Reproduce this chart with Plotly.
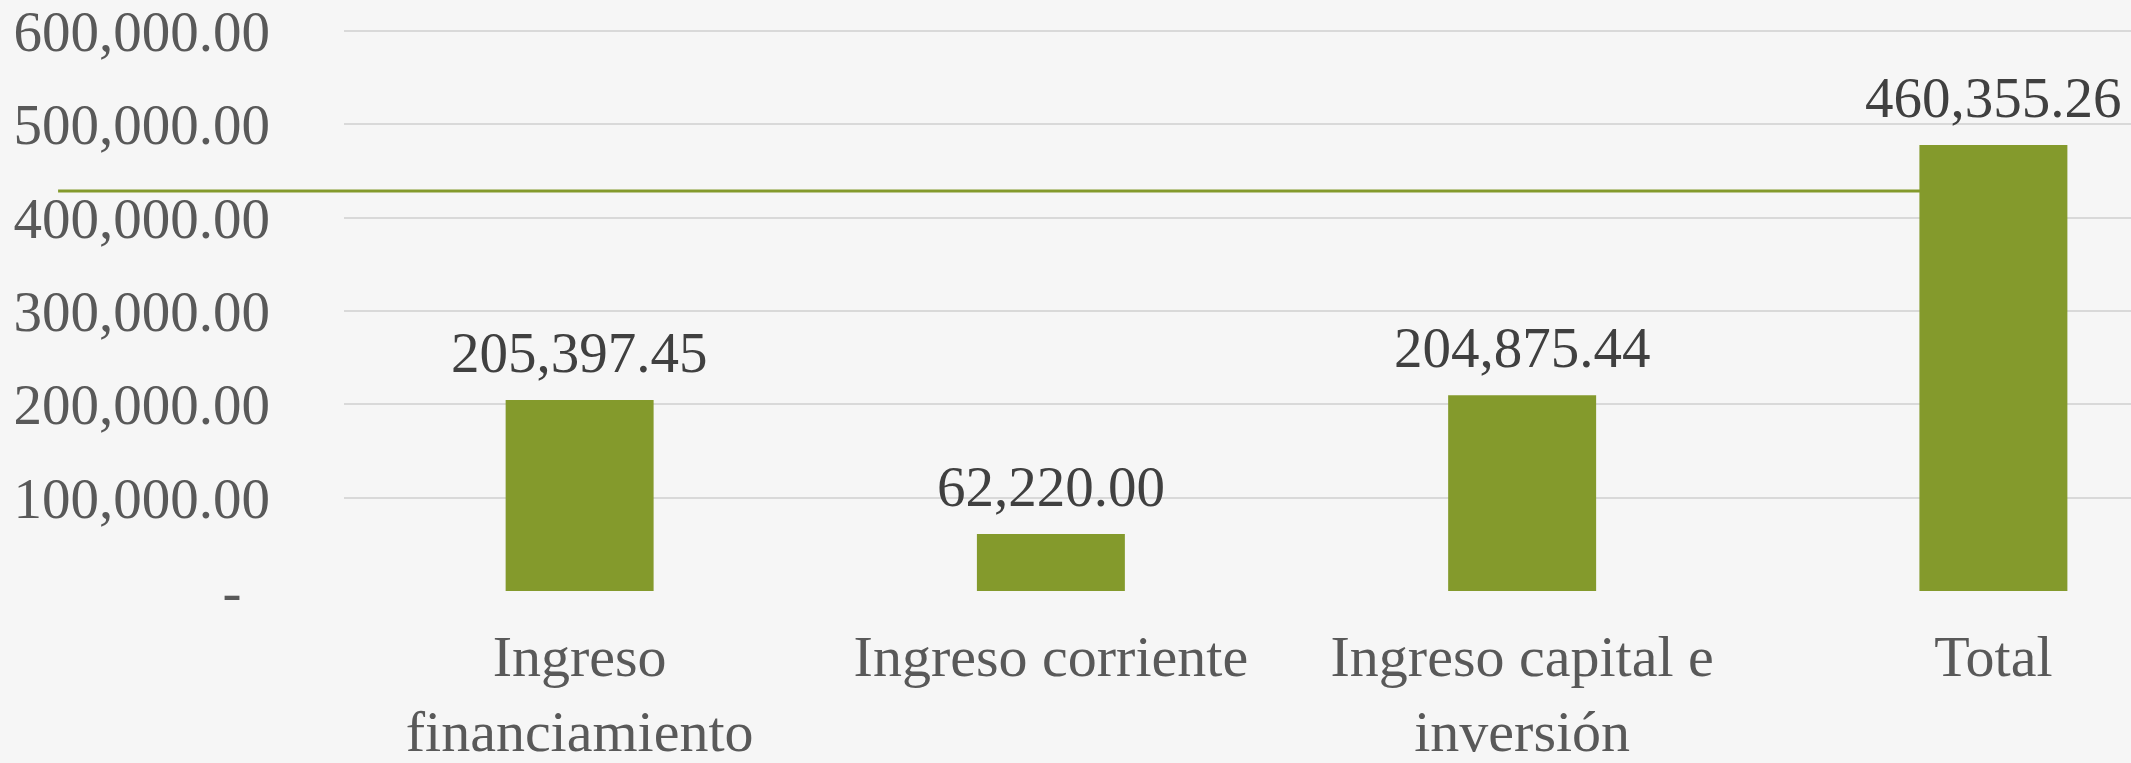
import plotly.graph_objects as go

categories = ["Ingreso financiamiento", "Ingreso corriente", "Ingreso capital e inversión", "Total"]
category_labels = ["Ingreso<br>financiamiento", "Ingreso corriente", "Ingreso capital e<br>inversión", "Total"]
bar_values = [204600, 61100, 209700, 477900]
value_labels = ["205,397.45", "62,220.00", "204,875.44", "460,355.26"]
y_tickvals = [0, 100000, 200000, 300000, 400000, 500000, 600000]
y_ticktext = ["-\u00a0\u00a0", "100,000.00", "200,000.00", "300,000.00", "400,000.00", "500,000.00", "600,000.00"]

GREEN = "#849A2C"
FONT = "Liberation Serif"

fig = go.Figure()
fig.add_trace(go.Bar(
    x=categories,
    y=bar_values,
    marker=dict(color=GREEN, line=dict(width=0)),
    width=0.314,
    showlegend=False,
    hoverinfo="skip",
))

for cat, val, lab in zip(categories, bar_values, value_labels):
    fig.add_annotation(
        x=cat, y=val, text=lab, showarrow=False,
        xanchor="center", yanchor="bottom", yshift=14,
        font=dict(family=FONT, size=57, color="#404040"),
    )

# decorative horizontal line from the slide template (behind the bars)
fig.add_shape(type="line", xref="paper", yref="paper",
              x0=-0.16, x1=0.92, y0=(591 - 191) / 566, y1=(591 - 191) / 566,
              line=dict(color=GREEN, width=3), layer="below")

fig.update_layout(
    width=2131, height=763,
    margin=dict(l=344, r=0, t=25, b=172),
    paper_bgcolor="#F6F6F6",
    plot_bgcolor="#F6F6F6",
    font=dict(family=FONT, size=58, color="#595959"),
)
fig.update_xaxes(
    type="category",
    range=[-0.5, 3.292],
    tickvals=categories,
    ticktext=category_labels,
    showgrid=False, zeroline=False, showline=False,
    ticks="", ticklabelstandoff=26,
    tickfont=dict(family=FONT, size=58, color="#595959"),
)
fig.update_yaxes(
    range=[0, 606430],
    tickvals=y_tickvals,
    ticktext=y_ticktext,
    showgrid=True, gridcolor="#D9D9D9", gridwidth=1.5,
    zeroline=False, showline=False,
    ticks="", ticklabelstandoff=73,
    ticklabeloverflow="allow",
    tickfont=dict(family=FONT, size=57, color="#595959"),
)

fig.write_html("out.html",
               config={"displayModeBar": False},
               post_script="document.body.style.margin='0';document.body.style.overflow='hidden';document.body.style.background='#F6F6F6';")
